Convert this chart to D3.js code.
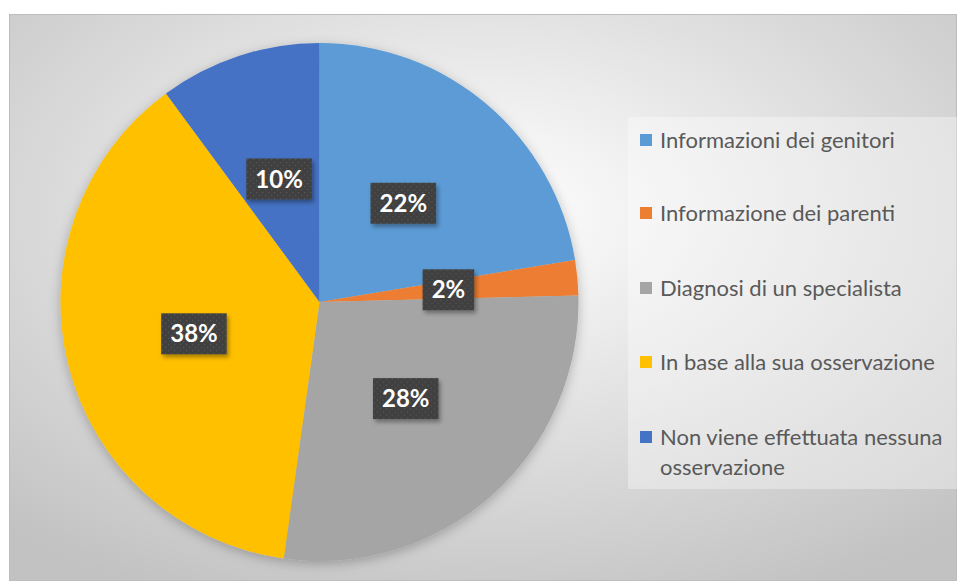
<!DOCTYPE html>
<meta charset="utf-8">
<style>
body { margin: 0; background: #fff; }
.legend text { font: 22px Lato, "Open Sans", sans-serif; fill: #595959; }
.lbl { font: bold 24px Lato, "Open Sans", sans-serif; fill: #fff; }
</style>
<body>
<div id="chart"></div>
<script src="https://d3js.org/d3.v7.min.js"></script>
<script>
var categories = ["Informazioni dei genitori", "Informazione dei parenti", "Diagnosi di un specialista",
                  "In base alla sua osservazione", "Non viene effettuata nessuna osservazione"];
var values = [22.4, 2.2, 27.6, 37.7, 10.1];
var labels = ["22%", "2%", "28%", "38%", "10%"];
var colors = ["#5b9bd5", "#ed7d31", "#a5a5a5", "#ffc000", "#4472c4"];

var W = 959, H = 583;
var svg = d3.select("#chart").append("svg").attr("width", W).attr("height", H);
var defs = svg.append("defs");

var bg = defs.append("radialGradient").attr("id", "bg")
    .attr("cx", "50%").attr("cy", "35%").attr("r", "75%");
bg.append("stop").attr("offset", "0%").attr("stop-color", "#ffffff");
bg.append("stop").attr("offset", "100%").attr("stop-color", "#c2c2c2");

var sh = defs.append("filter").attr("id", "shadow").attr("x", "-20%").attr("y", "-20%").attr("width", "140%").attr("height", "140%");
sh.append("feDropShadow").attr("dx", 0).attr("dy", 3).attr("stdDeviation", 6).attr("flood-color", "#000").attr("flood-opacity", 0.25);

var sh2 = defs.append("filter").attr("id", "shadow2").attr("x", "-30%").attr("y", "-30%").attr("width", "160%").attr("height", "160%");
sh2.append("feDropShadow").attr("dx", 2).attr("dy", 3).attr("stdDeviation", 2).attr("flood-color", "#000").attr("flood-opacity", 0.35);

var pat = defs.append("pattern").attr("id", "dots").attr("patternUnits", "userSpaceOnUse")
    .attr("width", 6).attr("height", 6);
pat.append("rect").attr("width", 6).attr("height", 6).attr("fill", "#404040");
pat.append("rect").attr("x", 1).attr("y", 1).attr("width", 1.2).attr("height", 1.2).attr("fill", "#585858");
pat.append("rect").attr("x", 4).attr("y", 4).attr("width", 1.2).attr("height", 1.2).attr("fill", "#585858");

// frame
svg.append("rect").attr("x", 9.5).attr("y", 14.5).attr("width", 947).attr("height", 566)
    .attr("fill", "url(#bg)").attr("stroke", "#bdbdbd").attr("stroke-width", 1);

var cx = 319.5, cy = 302, R = 259;
var pie = d3.pie().sort(null).value(function(d) { return d; });
var arcs = pie(values);
var arc = d3.arc().innerRadius(0).outerRadius(R);
var labelArc = d3.arc().innerRadius(R * 0.5).outerRadius(R * 0.5);

var g = svg.append("g").attr("transform", "translate(" + cx + "," + cy + ")");
g.append("g").attr("filter", "url(#shadow)")
  .selectAll("path").data(arcs).enter().append("path")
    .attr("d", arc)
    .attr("fill", function(d, i) { return colors[i]; });

var lg = g.selectAll(".l").data(arcs).enter().append("g")
    .attr("transform", function(d) { return "translate(" + labelArc.centroid(d) + ")"; });
lg.each(function(d, i) {
    var el = d3.select(this);
    var t = el.append("text").attr("class", "lbl").attr("text-anchor", "middle")
        .attr("dy", "0.36em").text(labels[i]);
    var w = t.node().getComputedTextLength() + 18;
    el.insert("rect", "text").attr("x", -w / 2).attr("y", -20.5).attr("width", w).attr("height", 41)
        .attr("fill", "url(#dots)").attr("filter", "url(#shadow2)");
});

// legend
var legend = svg.append("g").attr("class", "legend");
legend.append("rect").attr("x", 628).attr("y", 117).attr("width", 329).attr("height", 372)
    .attr("fill", "#ffffff").attr("fill-opacity", 0.35);
var rowY = [140, 213, 288, 362, 437];
var item = legend.selectAll(".item").data(categories).enter().append("g")
    .attr("transform", function(d, i) { return "translate(640," + rowY[i] + ")"; });
item.append("rect").attr("x", 0).attr("y", -6).attr("width", 12).attr("height", 12)
    .attr("fill", function(d, i) { return colors[i]; });
item.each(function(d, i) {
    var t = d3.select(this).append("text").attr("x", 20).attr("dy", "0.35em");
    if (i === 4) {
        t.append("tspan").attr("x", 20).text("Non viene effettuata nessuna");
        t.append("tspan").attr("x", 20).attr("dy", 30).text("osservazione");
    } else {
        t.text(d);
    }
});
</script>
</body>
